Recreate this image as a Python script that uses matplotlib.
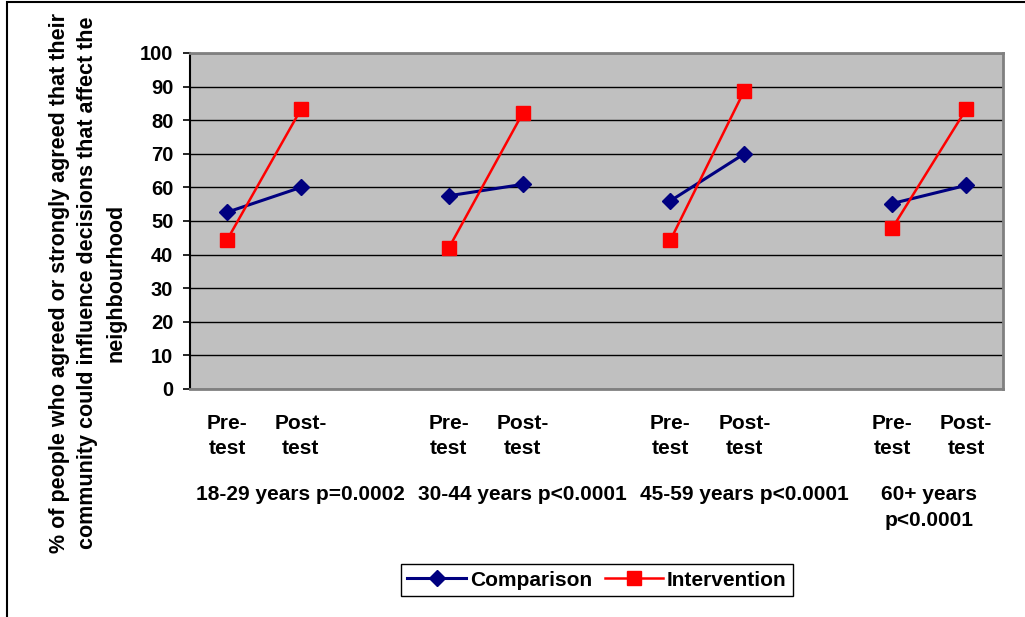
import matplotlib
matplotlib.use("Agg")
import matplotlib.pyplot as plt
import matplotlib.transforms as mtransforms
from matplotlib.patches import Rectangle

# ---- data ----
groups = ['18-29 years p=0.0002', '30-44 years p<0.0001', '45-59 years p<0.0001', '60+ years\np<0.0001']
phases = ['Pre-\ntest', 'Post-\ntest']
comparison = [52.6, 60.0, 57.5, 60.9, 56.0, 70.0, 55.2, 60.6]
intervention = [44.3, 83.2, 41.9, 82.0, 44.3, 88.8, 47.8, 83.2]
yticks = [0, 10, 20, 30, 40, 50, 60, 70, 80, 90, 100]
ylabel = ('% of people who agreed or strongly agreed that their\n'
          'community could influence decisions that affect the\n'
          'neighbourhood')

FONT = ['Liberation Sans', 'DejaVu Sans']
plt.rcParams['font.family'] = FONT
plt.rcParams['font.weight'] = 'bold'

W, H = 1025, 617
fig = plt.figure(figsize=(W / 100, H / 100), dpi=100)
ax = fig.add_axes([190 / W, 1 - 389 / H, 813 / W, 336 / H])
ax.set_facecolor('#C0C0C0')

# category slots: each group = Pre, Post, then one empty slot
n_groups = len(groups)
slot = 3
positions = []
for g in range(n_groups):
    positions += [g * slot, g * slot + 1]

for g in range(n_groups):
    xs = positions[2 * g:2 * g + 2]
    ax.plot(xs, comparison[2 * g:2 * g + 2], color='#000080', lw=2.2,
            marker='D', ms=7.8, mec='#000080', mfc='#000080', zorder=3,
            label='Comparison' if g == 0 else None)
    ax.plot(xs, intervention[2 * g:2 * g + 2], color='#FF0000', lw=1.8,
            marker='s', ms=10.5, mec='#FF0000', mfc='#FF0000', zorder=4,
            label='Intervention' if g == 0 else None)

ax.set_xlim(-0.5, (n_groups - 1) * slot + 1.5)
ax.set_ylim(0, 100)
ax.set_yticks(yticks)
ax.set_yticklabels([str(t) for t in yticks], fontsize=14.5, fontweight='bold')
ax.yaxis.grid(True, color='#000000', lw=1.0)
ax.set_axisbelow(True)
ax.tick_params(axis='y', direction='out', length=5, width=1.2, pad=7, color='black')

ax.set_xticks(positions)
ax.set_xticklabels(phases * n_groups, fontsize=15, fontweight='bold', linespacing=1.4)
ax.tick_params(axis='x', length=0, pad=18)

for side in ['top', 'right', 'bottom']:
    ax.spines[side].set_color('#808080')
    ax.spines[side].set_linewidth(2)
ax.spines['left'].set_color('#000000')
ax.spines['left'].set_linewidth(1.5)

# group labels
trans = mtransforms.blended_transform_factory(ax.transData, fig.transFigure)
group_centers = [1, 4, 7, 9.5]
for gx, lab in zip(group_centers, groups):
    for i, ln in enumerate(lab.split('\n')):
        ax.text(gx, 1 - (494 + 27 * i) / H, ln, transform=trans, ha='center', va='center',
                fontsize=15, fontweight='bold')

# y label
fig.text(88 / W, 1 - 283 / H, ylabel, rotation=90, ha='center', va='center',
         fontsize=15.5, fontweight='bold', linespacing=1.45, multialignment='center')

# legend
leg = fig.legend(loc='center', bbox_to_anchor=(597 / W, 1 - 580 / H), ncol=2,
                 frameon=True, fancybox=False, edgecolor='black', framealpha=1,
                 prop={'size': 15, 'weight': 'bold'}, handlelength=2.8,
                 columnspacing=0.6, handletextpad=0.2, borderpad=0.3)
leg.get_frame().set_linewidth(1.0)

# outer border (left and top visible)
fig.patches.append(Rectangle((7 / W, -0.1), 1.2, 1.1 - 2 / H, transform=fig.transFigure,
                             fill=False, edgecolor='black', lw=1.5))

fig.savefig('out.png', dpi=100)
